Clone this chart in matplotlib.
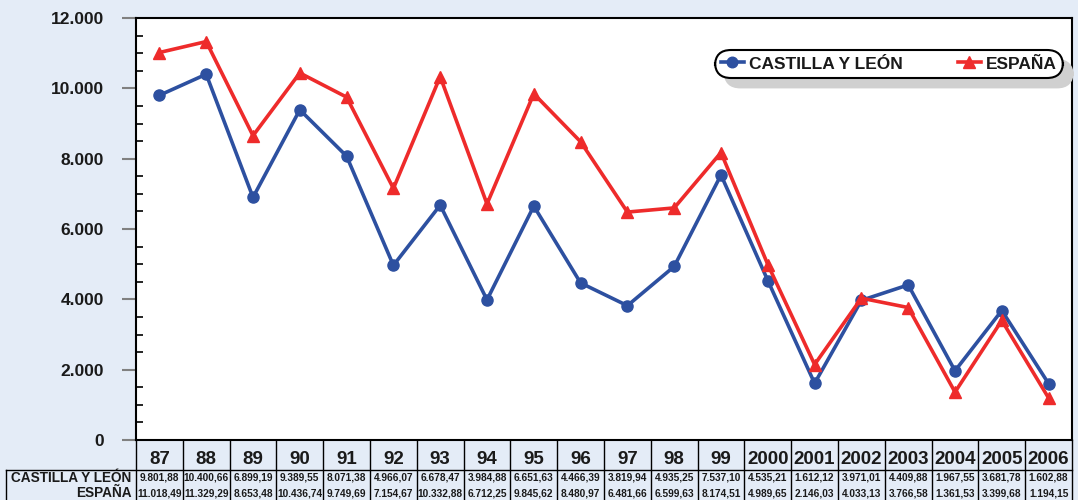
import matplotlib
matplotlib.use("Agg")
import matplotlib.pyplot as plt
from matplotlib.lines import Line2D
from matplotlib import font_manager
import matplotlib.ticker as mticker

years = ["87", "88", "89", "90", "91", "92", "93", "94", "95", "96", "97", "98",
         "99", "2000", "2001", "2002", "2003", "2004", "2005", "2006"]
castilla = [9801.88, 10400.66, 6899.19, 9389.55, 8071.38, 4966.07, 6678.47, 3984.88,
            6651.63, 4466.39, 3819.94, 4935.25, 7537.10, 4535.21, 1612.12, 3971.01,
            4409.88, 1967.55, 3681.78, 1602.88]
espana = [11018.49, 11329.29, 8653.48, 10436.74, 9749.69, 7154.67, 10332.88, 6712.25,
          9845.62, 8480.97, 6481.66, 6599.63, 8174.51, 4989.65, 2146.03, 4033.13,
          3766.58, 1361.53, 3399.68, 1194.15]
series_names = ["CASTILLA Y LEÓN", "ESPAÑA"]

BG = "#E4ECF7"
BLUE = "#2D50A0"
RED = "#EE2B2B"
FONT = "Liberation Sans"
TXT = "#1A1A1A"

names = {f.name for f in font_manager.fontManager.ttflist}
if "Liberation Sans Narrow" in names:
    CELL_FONT, CELL_SIZE = "Liberation Sans Narrow", 8.8
else:
    CELL_FONT, CELL_SIZE = FONT, 7.3

def es_fmt(v, dec=2):
    s = f"{v:,.{dec}f}"
    return s.replace(",", "X").replace(".", ",").replace("X", ".")

fig = plt.figure(figsize=(10.78, 5.0), dpi=100, facecolor=BG)
W, H = 1078, 500
ax = fig.add_axes([136 / W, 1 - 440 / H, (1072 - 136) / W, (440 - 18) / H])
ax.set_facecolor("white")

x = list(range(len(years)))
ax.plot(x, castilla, color=BLUE, lw=2.6, marker="o", ms=8, mec=BLUE, mfc=BLUE,
        label=series_names[0], zorder=3)
ax.plot(x, espana, color=RED, lw=2.6, marker="^", ms=9, mec=RED, mfc=RED,
        label=series_names[1], zorder=3)

ax.set_xlim(-0.5, len(years) - 0.5)
ax.set_ylim(0, 12000)
ax.yaxis.set_major_locator(mticker.MultipleLocator(2000))
ax.yaxis.set_minor_locator(mticker.MultipleLocator(500))
ax.yaxis.set_major_formatter(mticker.FuncFormatter(lambda v, p: es_fmt(v, 0)))
ax.tick_params(axis="y", which="major", direction="out", length=10, width=1.5,
               color="#808080", pad=13, labelsize=12.5)
ax.tick_params(axis="y", which="minor", direction="in", length=5, width=1.2,
               color="black")
for lbl in ax.get_yticklabels():
    lbl.set_fontweight("bold")
    lbl.set_fontfamily(FONT)
    lbl.set_color(TXT)
ax.set_xticks([])
for sp in ax.spines.values():
    sp.set_linewidth(1.5)
    sp.set_color("black")

# Data table below the axes
trans = ax.get_xaxis_transform()
ax_h = 422.0
def ypix(py):
    return (440 - py) / ax_h

lw = 1.0
for k in range(len(years) + 1):
    ax.add_line(Line2D([k - 0.5, k - 0.5], [ypix(440), ypix(500)], transform=trans,
                       color="black", lw=lw, clip_on=False))
x_left = -0.5 - (136 - 6) / (936 / 20)
ax.add_line(Line2D([x_left, len(years) - 0.5], [ypix(470), ypix(470)], transform=trans,
                   color="black", lw=lw, clip_on=False))
ax.add_line(Line2D([x_left, x_left], [ypix(470), ypix(500)], transform=trans,
                   color="black", lw=lw, clip_on=False))

for i, yr in enumerate(years):
    ax.text(i, ypix(460), yr, transform=trans, ha="center", va="center",
            fontsize=13.5, fontweight="bold", family=FONT, color=TXT)

for i, v in enumerate(castilla):
    ax.text(i, ypix(478), es_fmt(v), transform=trans, ha="center", va="center",
            fontsize=CELL_SIZE, fontweight="bold", family=CELL_FONT, color=TXT)
for i, v in enumerate(espana):
    ax.text(i, ypix(493), es_fmt(v), transform=trans, ha="center", va="center",
            fontsize=CELL_SIZE, fontweight="bold", family=CELL_FONT, color=TXT)

ax.text(-0.6, ypix(478), series_names[0], transform=trans, ha="right", va="center",
        fontsize=9.8, fontweight="bold", family=FONT, color=TXT)
ax.text(-0.6, ypix(493), series_names[1], transform=trans, ha="right", va="center",
        fontsize=9.8, fontweight="bold", family=FONT, color=TXT)

# Legend
leg = ax.legend(loc="center", bbox_to_anchor=((889 - 136) / 936, (440 - 64) / 422),
                ncol=2, frameon=True, fancybox=True,
                shadow={"color": "#D0D0D0", "alpha": 1, "ox": 7, "oy": -7},
                prop={"family": FONT, "weight": "bold", "size": 12.5},
                handlelength=1.3, handletextpad=0.3, columnspacing=3.2,
                borderpad=0.2, markerscale=0.95)
frame = leg.get_frame()
frame.set_boxstyle("round,pad=0.15,rounding_size=0.9")
frame.set_edgecolor("black")
frame.set_linewidth(1.5)
for t in leg.get_texts():
    t.set_color(TXT)

fig.savefig("out.png", dpi=100, facecolor=BG)
